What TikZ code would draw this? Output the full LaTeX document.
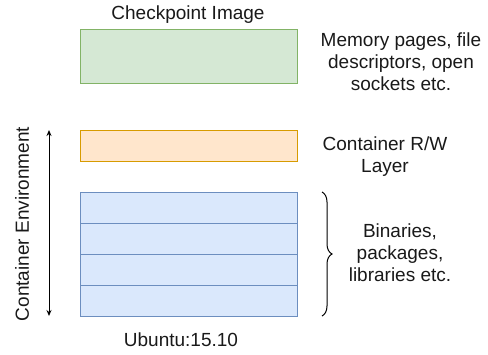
\documentclass[tikz,border=0pt]{standalone}
\usepackage{fontspec}
\setmainfont{Liberation Sans}
\usetikzlibrary{decorations.pathreplacing,arrows.meta}
\definecolor{gfill}{HTML}{D5E8D4}\definecolor{gline}{HTML}{82B366}
\definecolor{ofill}{HTML}{FFE6CC}\definecolor{oline}{HTML}{D79B00}
\definecolor{bfill}{HTML}{DAE8FC}\definecolor{bline}{HTML}{6C8EBF}
\begin{document}
\begin{tikzpicture}[x=1pt,y=-1pt,
  lbl/.style={font=\fontsize{19}{22}\selectfont,align=center,inner sep=0pt,text=black!90},
  layer/.style={draw,line width=1pt,minimum width=217pt,inner sep=0pt,anchor=north west},
  gbox/.style={layer,fill=gfill,draw=gline,minimum height=54pt},
  obox/.style={layer,fill=ofill,draw=oline,minimum height=31pt},
  bbox/.style={layer,fill=bfill,draw=bline,minimum height=31pt}]
\useasboundingbox (0,0) rectangle (488,354);
\node[gbox] (img) at (80,29) {};
\node[obox] (rw) at (80,130) {};
\node[bbox] (b1) at (80,192) {};
\node[bbox] (b2) at (80,223) {};
\node[bbox] (b3) at (80,254) {};
\node[bbox] (b4) at (80,285) {};
\node[lbl] (t1) at (188,15) {Checkpoint Image};
\node[lbl] (t2) at (401,62) {Memory pages, file\\descriptors, open\\sockets etc.};
\node[lbl] (t3) at (385,157) {Container R/W\\Layer};
\node[lbl] (t4) at (400,253) {Binaries,\\packages,\\libraries etc.};
\node[lbl] (t5) at (181,340) {Ubuntu:15.10};
\node[lbl,rotate=90] (t6) at (22,224) {Container Environment};
\coordinate (a1) at (49,130);
\coordinate (a2) at (49,316);
\draw[line width=1pt,{Stealth[length=6pt,width=5pt]}-{Stealth[length=6pt,width=5pt]}] (a1) -- (a2);
\coordinate (c1) at (322,192);
\coordinate (c2) at (322,316);
\draw[line width=1pt,decorate,decoration={brace,amplitude=10pt}] (c1) -- (c2);
\end{tikzpicture}
\end{document}
